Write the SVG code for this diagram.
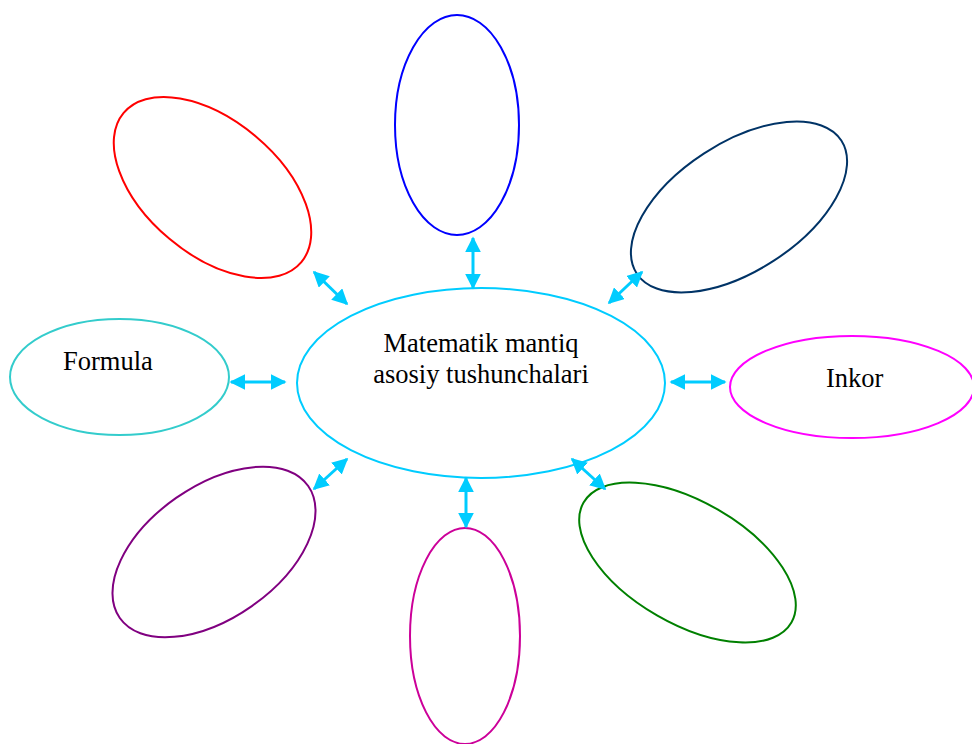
<svg xmlns="http://www.w3.org/2000/svg" width="972" height="744" viewBox="0 0 972 744">
<style>
.e{fill:none;stroke-width:2}
.t{font-family:"Liberation Serif","Times New Roman",serif;font-size:26.5px;fill:#000}
.a{stroke:#00CCFF;stroke-width:3;fill:none;marker-start:url(#h);marker-end:url(#h)}
</style>
<defs>
<marker id="h" viewBox="0 0 10 10" refX="9" refY="5" markerWidth="5.3" markerHeight="5.3" orient="auto-start-reverse" markerUnits="strokeWidth">
<path d="M0,0 L10,5 L0,10 Z" fill="#00CCFF"/>
</marker>
</defs>
<rect width="972" height="744" fill="#fff"/>
<g id="center"><ellipse class="e" cx="481" cy="383" rx="184" ry="95" stroke="#00CCFF"/>
<text class="t" x="481" y="352" text-anchor="middle">Matematik mantiq</text>
<text class="t" x="481" y="383" text-anchor="middle">asosiy tushunchalari</text></g>
<g id="top"><ellipse class="e" cx="457" cy="125" rx="62" ry="110" stroke="#0000FF"/></g>
<g id="topleft"><ellipse class="e" cx="0" cy="0" rx="116" ry="67" stroke="#FF0000" transform="translate(212.5,187.5) rotate(40)"/></g>
<g id="topright"><ellipse class="e" cx="0" cy="0" rx="122" ry="64" stroke="#003366" transform="translate(739,207) rotate(-33)"/></g>
<g id="formula"><ellipse class="e" cx="119.5" cy="377" rx="109.5" ry="58" stroke="#33CCCC"/>
<text class="t" x="63" y="370">Formula</text></g>
<g id="inkor"><ellipse class="e" cx="852" cy="387" rx="122" ry="51" stroke="#FF00FF"/>
<text class="t" x="826" y="387">Inkor</text></g>
<g id="bottomleft"><ellipse class="e" cx="0" cy="0" rx="115" ry="66" stroke="#800080" transform="translate(214,552) rotate(-35)"/></g>
<g id="bottom"><ellipse class="e" cx="465" cy="636" rx="55" ry="108" stroke="#CC0099"/></g>
<g id="bottomright"><ellipse class="e" cx="0" cy="0" rx="120" ry="61" stroke="#008000" transform="translate(687.5,562.5) rotate(30)"/></g>
<g id="connectors">
<line class="a" x1="314" y1="272" x2="347" y2="304"/>
<line class="a" x1="473" y1="238" x2="473" y2="288"/>
<line class="a" x1="642" y1="272" x2="609" y2="303"/>
<line class="a" x1="231" y1="382" x2="285" y2="382"/>
<line class="a" x1="671" y1="382" x2="725" y2="382"/>
<line class="a" x1="314" y1="489" x2="347" y2="459"/>
<line class="a" x1="466" y1="478" x2="466" y2="527"/>
<line class="a" x1="572" y1="459" x2="605" y2="489"/>
</g>
</svg>
